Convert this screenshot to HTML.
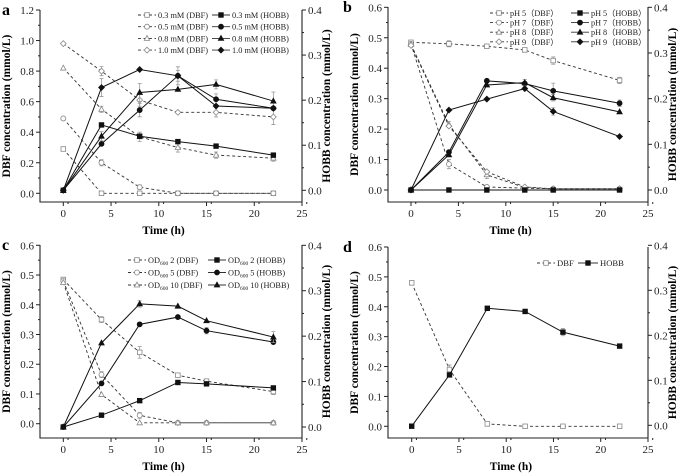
<!DOCTYPE html>
<html><head><meta charset="utf-8"><style>
html,body{margin:0;padding:0;background:#fff;}
svg{display:block;font-family:"Liberation Serif",serif;}
</style></head><body>
<svg id="fig" width="685" height="476" viewBox="0 0 685 476" xmlns="http://www.w3.org/2000/svg"></svg>
<script>
// ---------- Panel a data ----------
const aTimes=[0,4,8,12,16,22];
const aDbf03=[0.29,0,0,0,0,0];
const aDbf05=[0.49,0.20,0.04,0,0,0];
const aDbf08=[0.82,0.55,0.37,0.30,0.25,0.23];
const aDbf10=[0.98,0.80,0.61,0.53,0.53,0.50];
const aHobb03=[0,0.145,0.12,0.108,0.098,0.078];
const aHobb05=[0,0.103,0.178,0.254,0.202,0.182];
const aHobb08=[0,0.12,0.217,0.224,0.235,0.198];
const aHobb10=[0,0.228,0.268,0.254,0.187,0.182];
const aLabels=["0.3 mM (DBF)","0.5 mM (DBF)","0.8 mM (DBF)","1.0 mM (DBF)","0.3 mM (HOBB)","0.5 mM (HOBB)","0.8 mM (HOBB)","1.0 mM (HOBB)"];
// ---------- Panel b data ----------
const bTimes=[0,4,8,12,15,22];
const bDbf5=[0.485,0.48,0.472,0.46,0.425,0.36];
const bDbf7=[0.48,0.085,0.01,0.006,0.004,0.004];
const bDbf8=[0.478,0.215,0.05,0.008,0.004,0.004];
const bDbf9=[0.475,0.21,0.06,0.01,0.004,0.004];
const bHobb5=[0,0,0,0,0,0];
const bHobb7=[0,0.083,0.239,0.233,0.217,0.19];
const bHobb8=[0,0.077,0.23,0.235,0.202,0.171];
const bHobb9=[0,0.175,0.199,0.222,0.172,0.117];
const bLabels=["pH 5（DBF）","pH 7（DBF）","pH 8（DBF）","pH 9（DBF）","pH 5（HOBB）","pH 7（HOBB）","pH 8（HOBB）","pH 9（HOBB）"];
// ---------- Panel c data ----------
const cTimes=[0,4,8,12,15,22];
const cDbf2=[0.485,0.35,0.24,0.163,0.143,0.108];
const cDbf5=[0.48,0.165,0.028,0.003,0.003,0.003];
const cDbf10=[0.475,0.098,0.003,0.003,0.003,0.003];
const cHobb2=[0,0.026,0.058,0.098,0.095,0.086];
const cHobb5=[0,0.096,0.226,0.242,0.212,0.187];
const cHobb10=[0,0.185,0.271,0.266,0.234,0.198];
const cLabels=["2","5","10"];
// ---------- Panel d data ----------
const dTimes=[0,4,8,12,16,22];
const dDbf=[0.48,0.19,0.008,0,0,0];
const dHobb=[-0.002,0.112,0.26,0.253,0.207,0.176];
const xTicks=[0,5,10,15,20,25];

const NS="http://www.w3.org/2000/svg";
const svg=document.getElementById('fig');
function mk(tag,attrs,parent){const e=document.createElementNS(NS,tag);for(const k in attrs)e.setAttribute(k,attrs[k]);(parent||svg).appendChild(e);return e;}

function marker(g,shape,x,y,filled){
  const col=filled?'#111':'#888';const fill=filled?'#111':'#fff';const sw=filled?0.8:0.8;
  let e;
  if(shape==='sq') e=mk('rect',{x:x-2.3,y:y-2.3,width:4.6,height:4.6,fill,stroke:col,'stroke-width':sw},g);
  else if(shape==='ci') e=mk('circle',{cx:x,cy:y,r:2.5,fill,stroke:col,'stroke-width':sw},g);
  else if(shape==='tr') e=mk('polygon',{points:`${x},${y-2.9} ${x+2.7},${y+2} ${x-2.7},${y+2}`,fill,stroke:col,'stroke-width':sw},g);
  else e=mk('polygon',{points:`${x},${y-2.9} ${x+2.9},${y} ${x},${y+2.9} ${x-2.9},${y}`,fill,stroke:col,'stroke-width':sw},g);
  return e;
}

function panel(p){
  const g=mk('g',{});
  
  
  const xs=t=>p.x0+(p.R-p.x0)*t/25;
  const yl=v=>p.ly0+(p.lyM-p.ly0)*v/p.lmax;
  const yr=v=>p.ry0+(p.ryM-p.ry0)*v/0.4;
  const ax=mk('path',{d:`M${p.L},${p.T}V${p.B}H${p.R}V${p.T}`,fill:'none',stroke:'#222','stroke-width':1.1},g);
  
  xTicks.forEach(t=>{const x=xs(t);
    mk('line',{x1:x,x2:x,y1:p.B,y2:p.B+4,stroke:'#222'},g);
    mk('line',{x1:x+(p.R-p.x0)/50,x2:x+(p.R-p.x0)/50,y1:p.B,y2:p.B+2,stroke:'#222'},g);
    const tx=mk('text',{x:x,y:p.B+15,'font-size':11,'text-anchor':'middle',fill:'#222'},g);tx.textContent=t;
    });
  p.lTicks.forEach(v=>{const y=yl(v);
    mk('line',{x1:p.L-4,x2:p.L,y1:y,y2:y,stroke:'#222'},g);
    const hy=yl(v+p.lTicks[1]/2); if(hy>=p.T-0.5) mk('line',{x1:p.L-2,x2:p.L,y1:hy,y2:hy,stroke:'#222'},g);
    const tx=mk('text',{x:p.L-6,y:y+4,'font-size':11,'text-anchor':'end',fill:'#222'},g);tx.textContent=v.toFixed(1);
    });
  [0,0.1,0.2,0.3,0.4].forEach(v=>{const y=yr(v);
    mk('line',{x1:p.R,x2:p.R+4,y1:y,y2:y,stroke:'#222'},g);
    if(v<0.4) mk('line',{x1:p.R,x2:p.R+2,y1:yr(v+0.05),y2:yr(v+0.05),stroke:'#222'},g);
    const tx=mk('text',{x:p.R+6,y:y+4,'font-size':11,fill:'#222'},g);tx.textContent=v.toFixed(1);
    });
  const xt=mk('text',{x:xs(10.5),y:p.B+32,'font-size':11.5,'font-weight':'bold','text-anchor':'middle'},g);xt.textContent='Time (h)';
  
  const cy=(p.T+p.B)/2;
  const lt=mk('text',{x:0,y:0,'font-size':11.5,'font-weight':'bold','text-anchor':'middle',transform:`translate(${p.L-30},${cy}) rotate(-90)`},g);lt.textContent='DBF concentration (mmol/L)';
  
  const rt=mk('text',{x:0,y:0,'font-size':11.5,'font-weight':'bold','text-anchor':'middle',transform:`translate(${p.R+28},${cy}) rotate(-90)`},g);rt.textContent='HOBB concentration (mmol/L)';
  
  const lb=mk('text',{x:p.lx,y:p.T+5,'font-size':16,'font-weight':'bold'},g);lb.textContent=p.id;
  
  p.series.forEach(s=>{
    const sy=s.dbf?yl:yr;
    const pts=p.times.map((t,i)=>[xs(t),sy(s.vals[i])]);
    const ln=mk('polyline',{points:pts.map(q=>q.join(',')).join(' '),fill:'none',stroke:s.dbf?'#333':'#111','stroke-width':s.dbf?0.9:1,'stroke-dasharray':s.dbf?'3,2.5':'none'},g);
    
    pts.forEach((q,i)=>{
      if(s.err&&s.err[i]){const e=s.err[i];const y1=sy(s.vals[i]-e),y2=sy(s.vals[i]+e);
        mk('path',{d:`M${q[0]},${y1}V${y2}M${q[0]-2},${y1}h4M${q[0]-2},${y2}h4`,stroke:'#999','stroke-width':0.8,fill:'none'},g);}
      const m=marker(g,s.shape,q[0],q[1],!s.dbf);
      
    });
  });
  p.legend.forEach(L=>{
    const lg=mk('g',{},g);
    
    mk('line',{x1:L.x,x2:L.x+L.w,y1:L.y,y2:L.y,stroke:'#333','stroke-width':0.9,'stroke-dasharray':L.dbf?'3,2.5':'none'},lg);
    marker(lg,L.shape,L.x+L.w/2,L.y,!L.dbf);
    const t=mk('text',{x:L.x+L.w+2,y:L.y+3,'font-size':L.fs||8.6,fill:'#222'},lg);
    if(L.sub){t.textContent='OD';const ts=mk('tspan',{'font-size':5.5,dy:2},t);ts.textContent='600';const t2=mk('tspan',{dy:-2},t);t2.textContent=' '+L.text;}
    else t.textContent=L.text;
  });
}

const shapes=['sq','ci','tr','di'];
panel({id:'a',L:40,R:302,T:10,B:202,x0:63.3,ly0:193.3,lyM:10,lmax:1.2,ry0:190.3,ryM:10,lx:2,
  lTicks:[0,0.2,0.4,0.6,0.8,1.0,1.2],times:aTimes,
  series:[
    {name:'dbf-0.3mM',dbf:true,shape:'sq',vals:aDbf03},
    {name:'dbf-0.5mM',dbf:true,shape:'ci',vals:aDbf05,err:[0,0.02,0.015,0,0,0]},
    {name:'dbf-0.8mM',dbf:true,shape:'tr',vals:aDbf08,err:[0,0.02,0.03,0.03,0.02,0.02]},
    {name:'dbf-1.0mM',dbf:true,shape:'di',vals:aDbf10,err:[0,0.03,0.04,0,0.03,0.05]},
    {name:'hobb-0.3mM',dbf:false,shape:'sq',vals:aHobb03},
    {name:'hobb-0.5mM',dbf:false,shape:'ci',vals:aHobb05,err:[0,0,0.015,0.02,0.012,0]},
    {name:'hobb-0.8mM',dbf:false,shape:'tr',vals:aHobb08,err:[0,0.01,0.02,0,0.01,0.02]},
    {name:'hobb-1.0mM',dbf:false,shape:'di',vals:aHobb10,err:[0,0.02,0,0.012,0,0]}],
  legend:aLabels.map((t,i)=>({x:i<4?138:212,y:15+(i%4)*11.7,w:18,dbf:i<4,shape:shapes[i%4],text:t,fs:8.3}))
});
panel({id:'b',L:388,R:648,T:7,B:202,x0:411,ly0:190,lyM:7.3,lmax:0.6,ry0:190,ryM:7.3,lx:343,
  lTicks:[0,0.1,0.2,0.3,0.4,0.5,0.6],times:bTimes,
  series:[
    {name:'dbf-ph5',dbf:true,shape:'sq',vals:bDbf5,err:[0,0.01,0,0,0.012,0.01]},
    {name:'dbf-ph7',dbf:true,shape:'ci',vals:bDbf7,err:[0,0.015,0,0,0,0]},
    {name:'dbf-ph8',dbf:true,shape:'tr',vals:bDbf8,err:[0,0.01,0.012,0,0,0]},
    {name:'dbf-ph9',dbf:true,shape:'di',vals:bDbf9},
    {name:'hobb-ph5',dbf:false,shape:'sq',vals:bHobb5},
    {name:'hobb-ph7',dbf:false,shape:'ci',vals:bHobb7,err:[0,0,0,0,0.017,0.007]},
    {name:'hobb-ph8',dbf:false,shape:'tr',vals:bHobb8,err:[0,0,0,0.007,0.007,0]},
    {name:'hobb-ph9',dbf:false,shape:'di',vals:bHobb9,err:[0,0,0,0,0.008,0]}],
  legend:bLabels.map((t,i)=>({x:i<4?490:571,y:13+(i%4)*9.6,w:18,dbf:i<4,shape:shapes[i%4],text:t,fs:8.2}))
});
panel({id:'c',L:40,R:302,T:245,B:438,x0:63.3,ly0:423.7,lyM:245.3,lmax:0.6,ry0:427,ryM:245.3,lx:2,
  lTicks:[0,0.1,0.2,0.3,0.4,0.5,0.6],times:cTimes,
  series:[
    {name:'dbf-od2',dbf:true,shape:'sq',vals:cDbf2,err:[0,0.01,0.02,0,0,0.01]},
    {name:'dbf-od5',dbf:true,shape:'ci',vals:cDbf5,err:[0,0.01,0.01,0,0,0]},
    {name:'dbf-od10',dbf:true,shape:'tr',vals:cDbf10},
    {name:'hobb-od2',dbf:false,shape:'sq',vals:cHobb2},
    {name:'hobb-od5',dbf:false,shape:'ci',vals:cHobb5,err:[0,0,0,0,0.007,0]},
    {name:'hobb-od10',dbf:false,shape:'tr',vals:cHobb10,err:[0,0,0.007,0,0,0.012]}],
  legend:[0,1,2,3,4,5].map(i=>({x:i<3?128:208,y:260+(i%3)*12.5,w:18,dbf:i<3,shape:shapes[i%3],sub:true,fs:8.3,text:cLabels[i%3]+(i<3?' (DBF)':' (HOBB)')}))
});
panel({id:'d',L:388,R:648,T:247,B:438,x0:411.7,ly0:426.3,lyM:247,lmax:0.6,ry0:425.3,ryM:245.3,lx:343,
  lTicks:[0,0.1,0.2,0.3,0.4,0.5,0.6],times:dTimes,
  series:[
    {name:'dbf',dbf:true,shape:'sq',vals:dDbf,err:[0,0.015,0,0,0,0]},
    {name:'hobb',dbf:false,shape:'sq',vals:dHobb,err:[0,0,0,0,0.008,0]}],
  legend:[{x:537,y:263,w:18,dbf:true,shape:'sq',text:'DBF'},{x:578,y:263,w:20,dbf:false,shape:'sq',text:'HOBB'}]
});
</script>
</body></html>
